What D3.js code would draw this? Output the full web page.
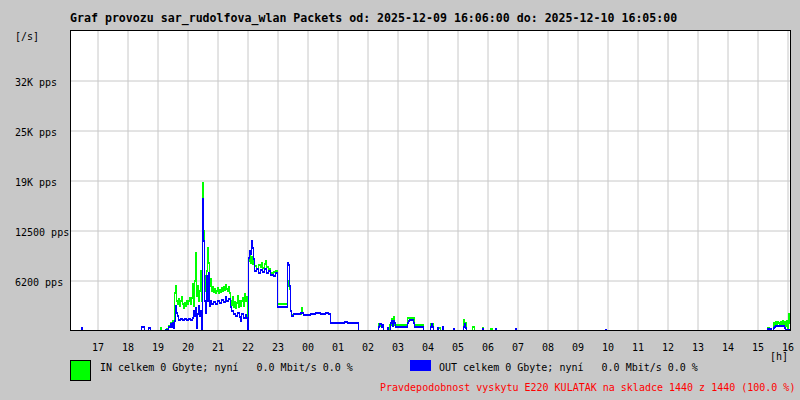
<!DOCTYPE html>
<html><head><meta charset="utf-8">
<script src="https://cdn.jsdelivr.net/npm/d3@7"></script>
<style>
html,body{margin:0;padding:0;background:#c8c8c8;}
svg{display:block;}
text{font-family:"DejaVu Sans Mono","Liberation Mono",monospace;}
</style></head><body>
<svg id="chart" width="800" height="400"></svg>
<script>
// ---- data ----
const titleText = "Graf provozu sar_rudolfova_wlan Packets od: 2025-12-09 16:06:00 do: 2025-12-10 16:05:00";
// minutes since 2025-12-09 16:06
const hourTicks = [54,114,174,234,294,354,414,474,534,594,654,714,774,834,894,954,1014,1074,1134,1194,1254,1314,1374,1434];
const hourLabels = ["17","18","19","20","21","22","23","00","01","02","03","04","05","06","07","08","09","10","11","12","13","14","15","16"];
const yTickValues = [6250,12500,18750,25000,31250];
const yTickLabels = ["6200 pps","12500 pps","19K pps","25K pps","32K pps"];
const yMax = 37500;
// [minute, packets/s]
const inSeries = [[0,0],[180,375],[182,0],[192,250],[196,625],[200,1000],[204,1250],[208,4750],[210,5625],[212,3750],[214,3375],[216,4000],[218,3125],[220,3750],[222,4250],[224,3375],[226,2875],[228,3500],[230,3125],[232,3750],[234,3375],[236,3750],[238,4125],[240,3375],[242,4125],[244,5875],[246,3125],[248,6250],[250,9750],[252,4375],[254,5625],[256,3750],[258,5000],[260,7500],[262,3750],[264,18500],[266,12500],[268,6875],[270,5000],[272,7500],[274,10375],[276,8500],[278,5625],[280,6500],[282,5000],[284,5500],[286,4875],[288,5250],[290,4750],[292,5000],[294,5375],[296,4750],[298,5125],[300,4875],[302,5375],[304,5000],[306,5500],[308,5125],[310,5750],[312,5250],[314,5000],[316,5500],[318,4750],[320,3750],[322,3250],[324,4250],[326,3000],[328,3625],[330,2875],[332,3500],[334,4375],[336,3000],[338,3750],[340,3125],[342,3750],[344,4125],[346,3125],[348,4625],[350,3750],[352,4250],[354,1500],[356,8750],[358,9375],[360,8500],[362,9250],[364,8375],[366,8750],[368,8125],[372,7750],[376,8250],[380,8000],[382,8500],[384,7875],[388,8375],[390,8750],[392,8000],[396,7750],[400,7250],[406,7375],[410,7500],[414,3375],[434,5625],[436,6250],[438,5250],[440,2500],[442,2000],[446,2125],[462,2875],[464,2250],[466,2050],[480,2125],[490,2200],[500,2125],[510,2200],[516,2125],[520,1000],[548,1100],[554,1000],[576,0],[616,875],[620,625],[626,0],[638,750],[642,1500],[646,1750],[648,810],[674,1625],[688,750],[706,0],[720,875],[726,0],[736,375],[740,0],[786,1375],[788,1000],[792,0],[804,500],[808,0],[824,375],[826,0],[840,250],[844,0],[1394,375],[1398,0],[1406,1000],[1408,750],[1410,1125],[1412,875],[1414,1125],[1416,1000],[1418,750],[1420,1125],[1422,875],[1424,1250],[1426,750],[1428,1125],[1430,625],[1432,1250],[1434,375],[1436,2125],[1438,1000],[1440,1000]];
const outSeries = [[0,0],[20,0],[22,375],[24,0],[142,440],[148,0],[156,375],[160,0],[190,125],[194,0],[196,500],[200,875],[202,500],[204,1000],[206,375],[208,1250],[210,3125],[212,2250],[214,1875],[216,1375],[220,1500],[224,1375],[228,1500],[232,1375],[236,1500],[240,1375],[244,1625],[246,2500],[248,1875],[250,2875],[252,375],[254,2125],[256,3125],[258,1875],[260,2500],[262,0],[264,16500],[266,11250],[268,3750],[270,2250],[272,6875],[274,3750],[276,7250],[278,3125],[280,3750],[282,3375],[286,3625],[290,3375],[294,3750],[298,3500],[302,3875],[306,3625],[310,4250],[312,3750],[316,4000],[320,3000],[322,2500],[326,2125],[330,1875],[334,2250],[338,1750],[340,1250],[342,2125],[346,1625],[350,2000],[352,1625],[354,0],[356,9125],[358,10000],[360,9625],[362,11250],[364,10375],[366,9000],[368,7500],[372,7750],[376,7250],[380,7625],[384,7375],[388,7750],[392,7250],[396,7500],[400,7000],[406,6875],[410,7250],[414,3000],[434,8500],[436,8250],[438,5625],[440,2500],[442,1875],[446,2125],[460,2200],[466,2050],[480,2125],[490,2200],[500,2125],[510,2200],[516,2125],[520,1000],[548,1100],[554,1000],[576,0],[616,500],[618,875],[622,500],[624,750],[626,0],[634,375],[636,0],[640,1000],[642,1250],[644,625],[646,1250],[648,1000],[650,560],[674,1000],[676,1250],[678,1375],[686,1000],[688,560],[706,0],[720,500],[722,875],[724,500],[726,0],[734,375],[736,0],[744,440],[746,0],[766,190],[768,0],[786,500],[788,875],[790,375],[792,0],[824,250],[826,0],[850,190],[852,0],[890,190],[892,0],[1070,125],[1072,0],[1394,250],[1398,0],[1400,250],[1402,0],[1406,375],[1408,500],[1410,625],[1426,625],[1428,375],[1430,125],[1440,125]];
const legendIn = "IN celkem 0 Gbyte; nyní   0.0 Mbit/s 0.0 %";
const legendOut = "OUT celkem 0 Gbyte; nyní   0.0 Mbit/s 0.0 %";
const footerText = "Pravdepodobnost vyskytu E220 KULATAK na skladce 1440 z 1440 (100.0 %)";

// ---- drawing ----
const svg = d3.select("#chart");
const L = 70, R = 790, T = 30, B = 330;
const x = d3.scaleLinear().domain([0, 1440]).range([L, R]);
const y = d3.scaleLinear().domain([0, yMax]).range([B, T]);

svg.append("rect").attr("x",0).attr("y",0).attr("width",800).attr("height",400).attr("fill","#c8c8c8");
svg.append("rect").attr("x",L).attr("y",T).attr("width",R-L).attr("height",B-T).attr("fill","#ffffff");

// grid
const gridX = svg.append("g").attr("transform",`translate(0.5,${T})`)
  .call(d3.axisBottom(x).tickValues(hourTicks).tickSize(B-T).tickFormat(""));
gridX.select(".domain").remove();
gridX.selectAll("line").attr("stroke","#c8c8c8");
const gridY = svg.append("g").attr("transform",`translate(${L},0.5)`)
  .call(d3.axisRight(y).tickValues(yTickValues).tickSize(R-L+2).tickFormat(""));
gridY.select(".domain").remove();
gridY.selectAll("line").attr("stroke","#c8c8c8");

// clip
svg.append("clipPath").attr("id","plotclip").append("rect")
  .attr("x",L).attr("y",T).attr("width",R-L+1).attr("height",B-T+1);

const line = d3.line().x(d=>x(d[0])).y(d=>y(d[1])).curve(d3.curveStepAfter);
const dataG = svg.append("g").attr("clip-path","url(#plotclip)");
function drawSeries(series, color){
  [0.5, 1.5].forEach(dy=>{
    dataG.append("path").datum(series).attr("d",line)
      .attr("transform",`translate(0.5,${dy})`)
      .attr("fill","none").attr("stroke",color).attr("stroke-width",1)
      .attr("shape-rendering","crispEdges");
  });
}
drawSeries(inSeries, "#00ff00");
drawSeries(outSeries, "#0000ff");

// frame
svg.append("rect").attr("x",L+0.5).attr("y",T+0.5).attr("width",R-L).attr("height",B-T)
  .attr("fill","none").attr("stroke","#000").attr("stroke-width",1);

// y axis labels
const yAx = svg.append("g").attr("transform",`translate(${L},0)`)
  .call(d3.axisLeft(y).tickValues(yTickValues).tickSize(0).tickFormat((d,i)=>yTickLabels[i]));
yAx.select(".domain").remove();
yAx.selectAll("text").attr("x",15-L).attr("dy",null).attr("y",5)
  .attr("text-anchor","start").attr("fill","#000")
  .style("font-size","10px").style("font-family",'"DejaVu Sans Mono",monospace');
svg.append("text").attr("x",15).attr("y",40).attr("font-size","10px").attr("fill","#000").text("[/s]");

// x axis labels
const xAx = svg.append("g").attr("transform",`translate(0.5,${B})`)
  .call(d3.axisBottom(x).tickValues(hourTicks).tickSize(0).tickFormat((d,i)=>hourLabels[i]));
xAx.select(".domain").remove();
xAx.selectAll("text").attr("y",21).attr("dy",null).attr("fill","#000")
  .style("font-size","10px").style("font-family",'"DejaVu Sans Mono",monospace');
svg.append("text").attr("x",770).attr("y",360).attr("font-size","10px").attr("fill","#000").text("[h]");

// title
svg.append("text").attr("x",70).attr("y",22).attr("font-size","11.6px").attr("font-weight","bold")
  .attr("fill","#000").text(titleText);

// legend
svg.append("rect").attr("x",70.5).attr("y",360.5).attr("width",20).attr("height",20)
  .attr("fill","#00ff00").attr("stroke","#000").attr("stroke-width",1);
svg.append("text").attr("x",100).attr("y",371).attr("font-size","10px").attr("fill","#000")
  .attr("xml:space","preserve").style("white-space","pre").text(legendIn);
svg.append("rect").attr("x",410).attr("y",360).attr("width",21).attr("height",11).attr("fill","#0000ff");
svg.append("text").attr("x",439).attr("y",371).attr("font-size","10px").attr("fill","#000")
  .attr("xml:space","preserve").style("white-space","pre").text(legendOut);
svg.append("text").attr("x",380).attr("y",391).attr("font-size","10px").attr("fill","#ff0000").text(footerText);
</script>
</body></html>
